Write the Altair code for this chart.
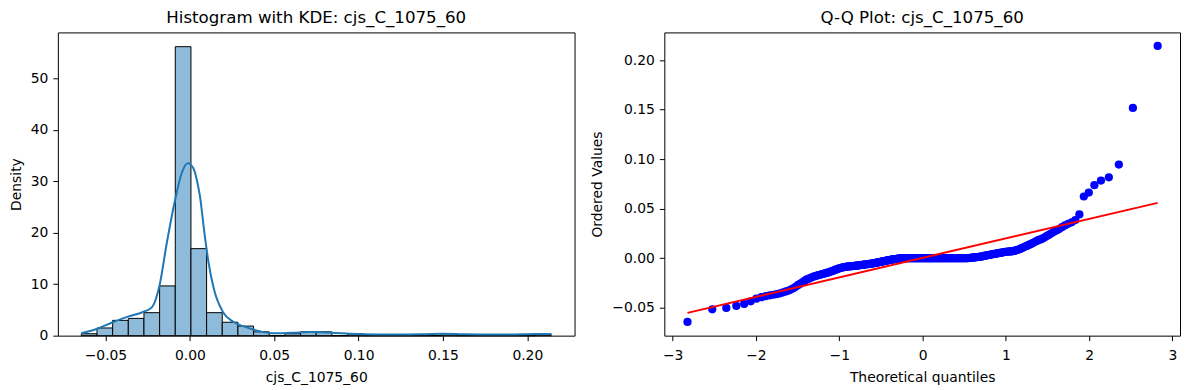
import altair as alt
import pandas as pd

# ---------------- data ----------------
# Histogram (density, 30 equal bins between the sample min and max)
hist_min = -0.0643
hist_max = 0.2141
hist_density = [0.37, 1.49, 2.97, 3.35, 4.46, 9.66, 56.13, 16.9, 4.46, 2.60,
                1.86, 0.74, 0.0, 0.37, 0.74, 0.74, 0.0, 0.37, 0.0, 0.0,
                0.0, 0.0, 0.0, 0.37, 0.0, 0.0, 0.0, 0.0, 0.0, 0.37]

# KDE curve (x value, density)
kde_x = [-0.0643, -0.0553, -0.0457, -0.0363, -0.0274, -0.0225, -0.0180, -0.0136,
         -0.0087, -0.0048, -0.0012, 0.0021, 0.0050, 0.0060, 0.0084, 0.0111,
         0.0143, 0.0198, 0.0257, 0.0336, 0.0420, 0.0494, 0.0612, 0.0710,
         0.0808, 0.0900, 0.1000, 0.1100, 0.1250, 0.1400, 0.1500, 0.1600,
         0.1750, 0.1900, 0.2050, 0.2141]
kde_y = [0.46, 1.3, 2.6, 3.74, 4.64, 5.48, 9.68, 18.1,
         26.4, 31.6, 33.5, 32.5, 28.9, 27.1, 20.6, 14.2,
         9.0, 4.5, 2.7, 1.6, 0.8, 0.45, 0.55, 0.72,
         0.6, 0.45, 0.3, 0.22, 0.2, 0.28, 0.35, 0.28,
         0.2, 0.22, 0.33, 0.3]

# Ordered sample values shown in the Q-Q plot (290 points, ascending)
qq_low = [-0.0643, -0.0516, -0.0502, -0.0482, -0.0462, -0.0435, -0.0409,
          -0.0394, -0.0383, -0.0375, -0.0369, -0.0362, -0.0355, -0.0345, -0.0336,
          -0.0326, -0.0314, -0.0302, -0.0286, -0.0270, -0.0257, -0.0243, -0.0230,
          -0.0217, -0.0209, -0.0200, -0.0193, -0.0186, -0.0181, -0.0175,
          -0.0171, -0.0167, -0.0163, -0.0159, -0.0155, -0.0150, -0.0146, -0.0142,
          -0.0137, -0.0133, -0.0128, -0.0123, -0.0118, -0.0113, -0.0108, -0.0104,
          -0.0100, -0.0097, -0.0094, -0.0091, -0.0089, -0.0087]
qq_mid_neg = [-0.0085, -0.0084, -0.0083, -0.0082, -0.0081, -0.0080, -0.0079, -0.0078,
              -0.0077, -0.0076, -0.0075, -0.0073, -0.0072, -0.0071, -0.0069, -0.0068, -0.0067, -0.0065,
              -0.0064, -0.0063, -0.0061, -0.0060, -0.0059, -0.0058, -0.0057, -0.0056, -0.0054, -0.0053,
              -0.0051, -0.0050, -0.0048, -0.0046, -0.0045, -0.0043, -0.0041, -0.0040, -0.0038, -0.0036,
              -0.0035, -0.0033, -0.0031, -0.0030, -0.0028, -0.0026, -0.0025, -0.0023, -0.0021, -0.0020,
              -0.0018, -0.0017, -0.0015, -0.0014, -0.0012, -0.0011, -0.0010, -0.0009, -0.0008, -0.0007,
              -0.0006, -0.0005, -0.0004, -0.0003, -0.0002, -0.0001]
qq_zero_count = 89          # flat run of exact zeros
qq_mid_pos = [0.0001, 0.0002, 0.0003, 0.0004, 0.0005,
              0.0006, 0.0007, 0.0008, 0.0009, 0.0010, 0.0011, 0.0012, 0.0013, 0.0014, 0.0015,
              0.0017, 0.0019, 0.0021, 0.0023, 0.0025, 0.0027, 0.0029, 0.0031, 0.0033, 0.0035,
              0.0037, 0.0039, 0.0041, 0.0043, 0.0045, 0.0047, 0.0049, 0.0051, 0.0053, 0.0055,
              0.0057, 0.0059, 0.0061, 0.0063, 0.0064, 0.0066, 0.0067, 0.0068, 0.0069, 0.0070,
              0.0073, 0.0077, 0.0081, 0.0085, 0.0090, 0.0096]
qq_high = [0.0104, 0.0110, 0.0117, 0.0124, 0.0131, 0.0139, 0.0147, 0.0156, 0.0165,
           0.0175, 0.0184, 0.0190, 0.0200, 0.0211, 0.0225, 0.0238, 0.0252, 0.0266,
           0.0280, 0.0294, 0.0313, 0.0331, 0.0348, 0.0362, 0.0385, 0.0442,
           0.0623, 0.0663, 0.0737, 0.0784, 0.0817, 0.0945, 0.1518, 0.2144]
qq_values = qq_low + qq_mid_neg + [0.0] * qq_zero_count + qq_mid_pos + qq_high

# least-squares fit line of the Q-Q plot
fit_slope = 0.01968
fit_intercept = 0.00035

col_name = "cjs_C_1075_60"

# ---------------- tables ----------------
n_bins = len(hist_density)
bw = (hist_max - hist_min) / n_bins
hist_df = pd.DataFrame({
    "start": [hist_min + k * bw for k in range(n_bins)],
    "end": [hist_min + (k + 1) * bw for k in range(n_bins)],
    "density": hist_density,
})
kde_df = pd.DataFrame({"x": kde_x, "y": kde_y})
qq_df = pd.DataFrame({"value": qq_values})

FONT = "DejaVu Sans"

# ---------------- left: histogram + KDE ----------------
xs_left = alt.Scale(domain=[-0.0782, 0.2280], nice=False, zero=False)
ys_left = alt.Scale(domain=[0, 58.9], nice=False, zero=False)

bars = alt.Chart(hist_df).mark_rect(
    fill="#8fbbda", stroke="black", strokeWidth=1
).encode(
    x=alt.X("start:Q", scale=xs_left,
            axis=alt.Axis(values=[-0.05, 0.0, 0.05, 0.10, 0.15, 0.20], format=".2f",
                          title=col_name)),
    x2="end:Q",
    y=alt.Y("density:Q", scale=ys_left,
            axis=alt.Axis(values=[0, 10, 20, 30, 40, 50], format="d", title="Density")),
    y2=alt.datum(0),
)
kde = alt.Chart(kde_df).mark_line(
    color="#1f77b4", strokeWidth=2, interpolate="monotone"
).encode(x=alt.X("x:Q", scale=xs_left), y=alt.Y("y:Q", scale=ys_left))

left = alt.layer(bars, kde).properties(
    width=518, height=304,
    title=alt.TitleParams(f"Histogram with KDE: {col_name}"),
)

# ---------------- right: Q-Q plot ----------------
xs_right = alt.Scale(domain=[-3.10, 3.09], nice=False, zero=False)
ys_right = alt.Scale(domain=[-0.0782, 0.2280], nice=False, zero=False)

base = alt.Chart(qq_df).transform_joinaggregate(
    n="count()"
).transform_window(
    rank="row_number()", sort=[alt.SortField("value", order="ascending")]
).transform_calculate(
    p="datum.rank == datum.n ? pow(0.5, 1 / datum.n) : "
      "(datum.rank == 1 ? 1 - pow(0.5, 1 / datum.n) : (datum.rank - 0.3175) / (datum.n + 0.365))"
).transform_calculate(
    osm="quantileNormal(datum.p)"
)

pts = base.mark_circle(size=68, color="#0000ff", opacity=1).encode(
    x=alt.X("osm:Q", scale=xs_right,
            axis=alt.Axis(values=[-3, -2, -1, 0, 1, 2, 3], format="d",
                          title="Theoretical quantiles")),
    y=alt.Y("value:Q", scale=ys_right,
            axis=alt.Axis(values=[-0.05, 0.0, 0.05, 0.10, 0.15, 0.20], format=".2f",
                          title="Ordered Values")),
)
fit = base.transform_aggregate(
    lo="min(osm)", hi="max(osm)"
).transform_fold(
    ["lo", "hi"], as_=["end", "q"]
).transform_calculate(
    fitted=f"{fit_slope} * datum.q + {fit_intercept}"
).mark_line(color="#ff0000", strokeWidth=2).encode(
    x=alt.X("q:Q", scale=xs_right), y=alt.Y("fitted:Q", scale=ys_right)
)

right = alt.layer(pts, fit).properties(
    width=517, height=304,
    title=alt.TitleParams(f"Q-Q Plot: {col_name}"),
)

chart = alt.hconcat(left, right, spacing=14).properties(
    padding={"left": 0, "top": 0, "right": 0, "bottom": 0}
).configure_view(
    stroke="black", strokeWidth=1
).configure_axis(
    domain=False, grid=False,
    tickColor="black", tickSize=5, tickWidth=1,
    labelFont=FONT, labelFontSize=13.9, labelColor="black", labelPadding=5,
    labelFlush=False, labelOverlap=False,
    titleFont=FONT, titleFontSize=13.9, titleFontWeight="normal", titleColor="black",
    titlePadding=7,
).configure_axisX(
    labelPadding=8, titlePadding=8,
).configure_title(
    font=FONT, fontSize=16.7, fontWeight="normal", color="black",
    anchor="middle", offset=6,
)

chart.save("out.html", embed_options={"renderer": "svg", "actions": False})
